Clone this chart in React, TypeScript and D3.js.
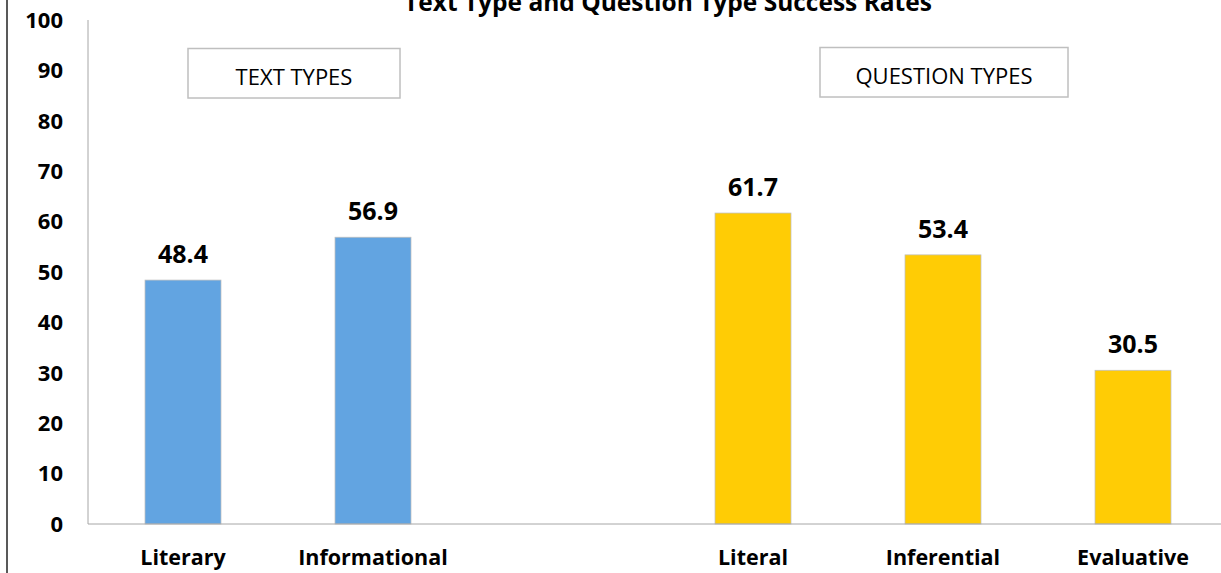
import React from "react";
import * as d3 from "d3";

const categories = ["Literary", "Informational", "", "Literal", "Inferential", "Evaluative"];
const values: (number | null)[] = [48.4, 56.9, null, 61.7, 53.4, 30.5];
const groups = ["text", "text", "", "question", "question", "question"];
const yTicks = [0, 10, 20, 30, 40, 50, 60, 70, 80, 90, 100];
const boxLabels = ["TEXT TYPES", "QUESTION TYPES"];
const title = "Text Type and Question Type Success Rates";

const W = 1221;
const H = 573;
const FONT = "'Open Sans', 'Liberation Sans', sans-serif";

export default function App() {
  const x = d3.scaleBand<string>().domain(categories.map((c, i) => i + "")).range([88, 1228]).padding(0);
  const y = d3.scaleLinear().domain([0, 100]).range([524, 20]);
  const bw = x.bandwidth() * 0.4;
  const color = (g: string) => (g === "text" ? "#62A4E1" : "#FFCC05");

  return (
    <svg width={W} height={H} style={{ position: "absolute", left: 0, top: 0, background: "#fff" }}>
      <rect x={0} y={0} width={W} height={H} fill="#fff" />
      <line x1={7} x2={7} y1={0} y2={H} stroke="#595959" strokeWidth={2} />
      <text x={668} y={11} textAnchor="middle" fontFamily={FONT} fontWeight={700} fontSize={24.5} fill="#000">
        {title}
      </text>
      {/* y axis */}
      <line x1={88} x2={88} y1={y(100)} y2={y(0)} stroke="#a6a6a6" strokeWidth={1} />
      {yTicks.map((t) => (
        <text key={t} x={63} y={y(t)} dy="0.35em" textAnchor="end" fontFamily={FONT} fontWeight={700} fontSize={22} fill="#000">
          {t}
        </text>
      ))}
      {/* bars */}
      {categories.map((c, i) => {
        const v = values[i];
        if (v == null) return null;
        const cx = (x(i + "") as number) + x.bandwidth() / 2;
        return (
          <g key={i}>
            <rect x={cx - bw / 2} y={y(v)} width={bw} height={y(0) - y(v)} fill={color(groups[i])} stroke="#bfbfbf" strokeWidth={0.75} />
            <text x={cx} y={y(v) - 17} textAnchor="middle" fontFamily={FONT} fontWeight={700} fontSize={25} fill="#000">
              {v.toFixed(1)}
            </text>
          </g>
        );
      })}
      <line x1={88} x2={W} y1={y(0)} y2={y(0)} stroke="#a6a6a6" strokeWidth={1} />
      {categories.map((c, i) => (
        <text key={"l" + i} x={(x(i + "") as number) + x.bandwidth() / 2} y={565} textAnchor="middle" fontFamily={FONT} fontWeight={700} fontSize={21.5} fill="#000">
          {c}
        </text>
      ))}
      {/* boxes */}
      <rect x={188} y={48.5} width={212} height={49.5} fill="#fff" stroke="#bfbfbf" strokeWidth={1.5} />
      <text x={294} y={85} textAnchor="middle" fontFamily={FONT} fontSize={22} fill="#000">
        {boxLabels[0]}
      </text>
      <rect x={820} y={47.5} width={248} height={49.5} fill="#fff" stroke="#bfbfbf" strokeWidth={1.5} />
      <text x={944} y={84} textAnchor="middle" fontFamily={FONT} fontSize={22} fill="#000">
        {boxLabels[1]}
      </text>
    </svg>
  );
}
